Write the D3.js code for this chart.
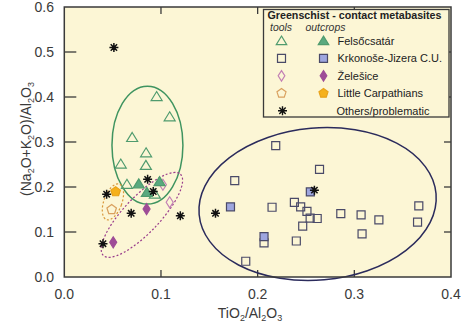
<!DOCTYPE html>
<html>
<head>
<meta charset="utf-8">
<script src="https://cdn.jsdelivr.net/npm/d3@7/dist/d3.min.js"></script>
<style>
    body { margin: 0; background: #fff; }
    svg { display: block; font-family: "Liberation Sans", Arial, sans-serif; }
</style>
</head>
<body>
<svg id="chart" width="461" height="322"></svg>
<script>
"use strict";

var xTicks = [0, 0.1, 0.2, 0.3, 0.4],
    yTicks = [0, 0.1, 0.2, 0.3, 0.4, 0.5, 0.6];

// Felsőcsatár (triangles)
var felsoTools = [
    [0.0955, 0.401], [0.109, 0.356], [0.0702, 0.310], [0.0846, 0.276],
    [0.0584, 0.251], [0.0844, 0.248], [0.0648, 0.206], [0.0937, 0.184]
];
var felsoOutcrops = [[0.077, 0.207], [0.0854, 0.188], [0.0985, 0.212]];

// Krkonoše-Jizera C.U. (squares)
var krkonoseTools = [
    [0.264, 0.239], [0.2187, 0.292], [0.1763, 0.214], [0.2149, 0.155],
    [0.238, 0.166], [0.2445, 0.156], [0.251, 0.146], [0.2543, 0.131],
    [0.2616, 0.130], [0.2466, 0.113], [0.240, 0.080], [0.2066, 0.076],
    [0.1877, 0.035], [0.286, 0.141], [0.307, 0.138], [0.3254, 0.127],
    [0.308, 0.096], [0.3667, 0.158], [0.3654, 0.122]
];
var krkonoseOutcrops = [[0.1719, 0.156], [0.2066, 0.0896], [0.2545, 0.189]];

// Želešice (diamonds)
var zelesiceTools = [[0.109, 0.166], [0.102, 0.205]];
var zelesiceOutcrops = [[0.0851, 0.151], [0.0506, 0.077]];

// Little Carpathians (pentagons)
var carpathiansTools = [[0.049, 0.150]];
var carpathiansOutcrops = [[0.0531, 0.1896]];

// Others/problematic (stars)
var others = [
    [0.0513, 0.510], [0.0438, 0.184], [0.0862, 0.217], [0.092, 0.190],
    [0.0692, 0.1415], [0.120, 0.136], [0.040, 0.074], [0.1564, 0.1415],
    [0.2587, 0.193]
];

// outlined fields: centre, half axes (data units), tilt in degrees
var fieldNames = ["green", "navy", "purple", "orange"];
var fieldCentres = [[0.0860, 0.293], [0.262, 0.162], [0.0803, 0.138], [0.0503, 0.167]];
var fieldRadii = [[0.0367, 0.131], [0.123, 0.169], [0.0579, 0.040], [0.0093, 0.042]];
var fieldTilts = [0, -5, -46.5, 20];

var legendTitle = "Greenschist - contact metabasites",
    legendLabels = ["Felsőcsatár", "Krkonoše-Jizera C.U.", "Želešice", "Little Carpathians", "Others/problematic"];

var LEFT = 64.3, RIGHT = 451, TOP = 7, BOTTOM = 277,
    BG = "#fcf6d5",
    AXIS = "#3a3a3a";

var svg = d3.select("#chart");

var x = d3.scaleLinear().domain([0, 0.4]).range([LEFT, RIGHT]),
    y = d3.scaleLinear().domain([0, 0.6]).range([BOTTOM, TOP]);

var styles = {
    green: { stroke: "#3f9460", width: 1.5, dash: "" },
    navy: { stroke: "#2b2b5c", width: 1.5, dash: "" },
    purple: { stroke: "#9a3d8c", width: 1.2, dash: "2,2" },
    orange: { stroke: "#d8973a", width: 1.2, dash: "2,2" }
};

function triangle(s) {
    s = s || 1;
    return "M0," + (-5 * s) + "L" + (5.5 * s) + "," + (4 * s) + "L" + (-5.5 * s) + "," + (4 * s) + "Z";
}
function square(s) {
    var h = 4 * (s || 1);
    return "M" + (-h) + "," + (-h) + "H" + h + "V" + h + "H" + (-h) + "Z";
}
function diamond(s) {
    s = s || 1;
    return "M0," + (-5.5 * s) + "L" + (3.5 * s) + ",0L0," + (5.5 * s) + "L" + (-3.5 * s) + ",0Z";
}
function pentagon(s) {
    var i, a, r = 5 * (s || 1), p = [];
    for (i = 0; i < 5; i += 1) {
        a = -Math.PI / 2 + i * 2 * Math.PI / 5;
        p.push([r * Math.cos(a), r * Math.sin(a)]);
    }
    return "M" + p.join("L") + "Z";
}
function star() {
    var i, a, r = 4.5, d = "";
    for (i = 0; i < 4; i += 1) {
        a = i * Math.PI / 4;
        d += "M" + (r * Math.cos(a)) + "," + (r * Math.sin(a)) +
            "L" + (-r * Math.cos(a)) + "," + (-r * Math.sin(a));
    }
    return d;
}

// plot area
svg.append("rect")
    .attr("x", LEFT).attr("y", TOP)
    .attr("width", RIGHT - LEFT).attr("height", BOTTOM - TOP)
    .attr("fill", BG);

// ticks (inward on all four sides)
var ticks = svg.append("g").attr("stroke", AXIS).attr("stroke-width", 1.3);
ticks.selectAll(".ty").data(yTicks.slice(1, -1)).enter().append("line")
    .attr("x1", LEFT).attr("x2", LEFT + 12)
    .attr("y1", function (d) { return y(d); }).attr("y2", function (d) { return y(d); });
ticks.selectAll(".tyr").data(yTicks.slice(1, -1)).enter().append("line")
    .attr("x1", RIGHT - 7).attr("x2", RIGHT)
    .attr("y1", function (d) { return y(d); }).attr("y2", function (d) { return y(d); });
ticks.selectAll(".tx").data(xTicks.slice(1, -1)).enter().append("line")
    .attr("x1", function (d) { return x(d); }).attr("x2", function (d) { return x(d); })
    .attr("y1", BOTTOM).attr("y2", BOTTOM - 7);
ticks.selectAll(".txt").data(xTicks.slice(1, -1)).enter().append("line")
    .attr("x1", function (d) { return x(d); }).attr("x2", function (d) { return x(d); })
    .attr("y1", TOP).attr("y2", TOP + 7);

// tick labels
svg.append("g").selectAll("text").data(xTicks).enter().append("text")
    .attr("x", function (d) { return x(d); })
    .attr("y", 298.5)
    .attr("text-anchor", "middle")
    .attr("font-size", 14)
    .attr("fill", AXIS)
    .text(d3.format(".1f"));
svg.append("g").selectAll("text").data(yTicks).enter().append("text")
    .attr("x", 54)
    .attr("y", function (d) { return y(d) + 5; })
    .attr("text-anchor", "end")
    .attr("font-size", 14)
    .attr("fill", AXIS)
    .text(d3.format(".1f"));

// axis titles with subscripts
function titled(sel, parts) {
    parts.forEach(function (p) {
        var t = sel.append("tspan").text(p[0]);
        if (p[1] === "sub") {
            t.attr("font-size", 9).attr("dy", 3);
        } else if (p[1] === "up") {
            t.attr("dy", -3);
        }
    });
}
var xt = svg.append("text")
    .attr("x", 250).attr("y", 318)
    .attr("text-anchor", "middle")
    .attr("font-size", 14)
    .attr("fill", AXIS);
titled(xt, [["TiO"], ["2", "sub"], ["/Al", "up"], ["2", "sub"], ["O", "up"], ["3", "sub"]]);

var yt = svg.append("text")
    .attr("transform", "translate(31,139) rotate(-90)")
    .attr("text-anchor", "middle")
    .attr("font-size", 14)
    .attr("fill", AXIS);
titled(yt, [["(Na"], ["2", "sub"], ["O+K", "up"], ["2", "sub"], ["O)/Al", "up"], ["2", "sub"], ["O", "up"], ["3", "sub"]]);

// fields
svg.append("g").selectAll("ellipse").data(fieldNames).enter().append("ellipse")
    .attr("transform", function (d, i) {
        return "translate(" + x(fieldCentres[i][0]) + "," + y(fieldCentres[i][1]) + ") rotate(" + fieldTilts[i] + ")";
    })
    .attr("rx", function (d, i) { return x(fieldRadii[i][0]) - x(0); })
    .attr("ry", function (d, i) { return y(0) - y(fieldRadii[i][1]); })
    .attr("fill", "none")
    .attr("stroke", function (d) { return styles[d].stroke; })
    .attr("stroke-width", function (d) { return styles[d].width; })
    .attr("stroke-dasharray", function (d) { return styles[d].dash; });

// symbol series
function plot(data, path, fill, stroke, sw) {
    svg.append("g").selectAll("path").data(data).enter().append("path")
        .attr("transform", function (d) { return "translate(" + x(d[0]) + "," + y(d[1]) + ")"; })
        .attr("d", path)
        .attr("fill", fill)
        .attr("stroke", stroke)
        .attr("stroke-width", sw || 1.2);
}

var SQ_OPEN = ["none", "#4a4a68"], SQ_FILL = ["#9ea6df", "#4a4a68"],
    TR_OPEN = ["none", "#4f9b6e"], TR_FILL = ["#5aa97f", "#4f9b6e"],
    DI_OPEN = ["none", "#c27fb4"], DI_FILL = ["#9e4c97", "#9e4c97"],
    PE_OPEN = ["none", "#d9a05e"], PE_FILL = ["#f5b11c", "#e8a21a"];

plot(krkonoseTools, square(), SQ_OPEN[0], SQ_OPEN[1]);
plot(krkonoseOutcrops, square(), SQ_FILL[0], SQ_FILL[1]);
plot(zelesiceTools, diamond(), DI_OPEN[0], DI_OPEN[1]);
plot(zelesiceOutcrops, diamond(), DI_FILL[0], DI_FILL[1]);
plot(carpathiansTools, pentagon(), PE_OPEN[0], PE_OPEN[1]);
plot(carpathiansOutcrops, pentagon(), PE_FILL[0], PE_FILL[1]);
plot(felsoTools, triangle(), TR_OPEN[0], TR_OPEN[1]);
plot(felsoOutcrops, triangle(), TR_FILL[0], TR_FILL[1]);
plot(others, star(), "none", "#111", 1.5);
svg.append("g").selectAll("circle").data(others).enter().append("circle")
    .attr("cx", function (d) { return x(d[0]); })
    .attr("cy", function (d) { return y(d[1]); })
    .attr("r", 1.8)
    .attr("fill", "#111");

// frame
svg.append("rect")
    .attr("x", LEFT).attr("y", TOP)
    .attr("width", RIGHT - LEFT).attr("height", BOTTOM - TOP)
    .attr("fill", "none")
    .attr("stroke", AXIS)
    .attr("stroke-width", 1.5);

// legend
var lg = svg.append("g");
lg.append("rect")
    .attr("x", 263.5).attr("y", 9.5)
    .attr("width", 185.5).attr("height", 107.5)
    .attr("fill", BG)
    .attr("stroke", AXIS)
    .attr("stroke-width", 1.3);
lg.append("text")
    .attr("x", 267.5).attr("y", 19)
    .attr("font-size", 10.4)
    .attr("font-weight", "bold")
    .attr("fill", "#222")
    .attr("textLength", 174)
    .attr("lengthAdjust", "spacingAndGlyphs")
    .text(legendTitle);
lg.append("text")
    .attr("x", 270).attr("y", 30.8)
    .attr("font-size", 10.4).attr("font-style", "italic").attr("fill", "#333")
    .text("tools");
lg.append("text")
    .attr("x", 305.5).attr("y", 30.8)
    .attr("font-size", 10.4).attr("font-style", "italic").attr("fill", "#333")
    .text("outcrops");

var rows = [
    [triangle(0.95), TR_OPEN, TR_FILL],
    [square(), SQ_OPEN, SQ_FILL],
    [diamond(0.95), DI_OPEN, DI_FILL],
    [pentagon(0.95), PE_OPEN, PE_FILL]
];
legendLabels.forEach(function (label, i) {
    var cy = 40.8 + i * 17.5;
    if (i < rows.length) {
        lg.append("path").attr("transform", "translate(281.5," + cy + ")")
            .attr("d", rows[i][0]).attr("fill", rows[i][1][0]).attr("stroke", rows[i][1][1]).attr("stroke-width", 1.2);
        lg.append("path").attr("transform", "translate(323.5," + cy + ")")
            .attr("d", rows[i][0]).attr("fill", rows[i][2][0]).attr("stroke", rows[i][2][1]).attr("stroke-width", 1.2);
    } else {
        lg.append("path").attr("transform", "translate(282.5," + cy + ")")
            .attr("d", star()).attr("stroke", "#111").attr("stroke-width", 1.4);
        lg.append("circle").attr("cx", 282.5).attr("cy", cy).attr("r", 1.6).attr("fill", "#111");
    }
    lg.append("text")
        .attr("x", i < rows.length ? 337.5 : 336.5)
        .attr("y", cy + 4)
        .attr("font-size", 11)
        .attr("fill", "#222")
        .text(label);
});
</script>
</body>
</html>
